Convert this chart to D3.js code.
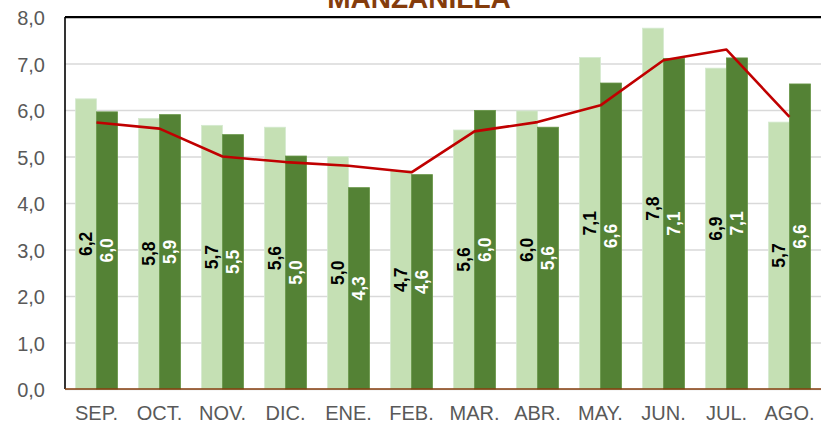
<!DOCTYPE html>
<html>
<head>
<meta charset="utf-8">
<script src="https://cdn.jsdelivr.net/npm/d3@7"></script>
<style>
  body { margin: 0; background: #fff; }
  text { font-family: "Liberation Sans", Arial, sans-serif; }
</style>
</head>
<body>
<div id="chart"></div>
<script>
// data
const months = ["SEP.", "OCT.", "NOV.", "DIC.", "ENE.", "FEB.", "MAR.", "ABR.", "MAY.", "JUN.", "JUL.", "AGO."];
const serieA = [6.24, 5.82, 5.67, 5.63, 5.0, 4.7, 5.57, 5.98, 7.13, 7.76, 6.9, 5.74];
const serieB = [5.96, 5.9, 5.47, 5.01, 4.33, 4.61, 5.99, 5.63, 6.58, 7.11, 7.12, 6.56];
const promedio = [5.73, 5.6, 5.0, 4.88, 4.8, 4.66, 5.54, 5.74, 6.1, 7.07, 7.3, 5.85];
const yTicks = [0, 1, 2, 3, 4, 5, 6, 7, 8];

const W = 821, H = 423;
const margin = {top: 17, right: 0, bottom: 34, left: 65};
const width = W - margin.left - margin.right,
      height = H - margin.top - margin.bottom;

const svg = d3.select("#chart").append("svg")
    .attr("width", W)
    .attr("height", H);

const g = svg.append("g")
    .attr("transform", `translate(${margin.left},${margin.top})`);

const fmt = v => d3.format(".1f")(v).replace(".", ",");

// scales
const x = d3.scaleBand().domain(months).range([0, width]).padding(0);
const y = d3.scaleLinear().domain([0, 8]).range([height, 0]);
const barW = x.bandwidth() / 3;

// grid
g.append("g")
  .call(d3.axisLeft(y).tickValues(yTicks).tickSize(-width).tickFormat(""))
  .call(a => a.select(".domain").remove())
  .selectAll("line").attr("stroke", "#d9d9d9").attr("stroke-width", 1.3);

// y tick labels
g.append("g")
  .call(d3.axisLeft(y).tickValues(yTicks).tickSize(0).tickPadding(20).tickFormat(fmt))
  .call(a => a.select(".domain").remove())
  .selectAll("text")
    .attr("fill", "#595959")
    .attr("dy", "0.38em")
    .style("font-size", "20px");

// bars
const bars = [
  {vals: serieA, fill: "#c5e0b4", stroke: "#d5ead0", off: -barW, lab: "#000"},
  {vals: serieB, fill: "#548235", stroke: "#669545", off: 0, lab: "#fff"}
];
bars.forEach(s => {
  g.append("g").selectAll("rect")
    .data(s.vals)
    .join("rect")
      .attr("x", (d, i) => x(months[i]) + x.bandwidth() / 2 + s.off)
      .attr("y", d => y(d))
      .attr("width", barW)
      .attr("height", d => y(0) - y(d))
      .attr("fill", s.fill)
      .attr("stroke", s.stroke)
      .attr("stroke-width", 0.8);
});

// line
const line = d3.line()
  .x((d, i) => x(months[i]) + x.bandwidth() / 2)
  .y(d => y(d));
g.append("path")
  .datum(promedio)
  .attr("d", line)
  .attr("fill", "none")
  .attr("stroke", "#c00000")
  .attr("stroke-width", 2.6)
  .attr("stroke-linejoin", "round");

// labels inside the bars
bars.forEach(s => {
  g.append("g").selectAll("text")
    .data(s.vals)
    .join("text")
      .attr("transform", (d, i) => {
        const cx = x(months[i]) + x.bandwidth() / 2 + s.off + barW / 2;
        const cy = (y(d) + y(0)) / 2;
        return `translate(${cx},${cy}) rotate(-90)`;
      })
      .attr("text-anchor", "middle")
      .attr("dy", "0.36em")
      .attr("fill", s.lab)
      .style("font-size", "17.5px")
      .style("font-weight", "bold")
      .text(d => fmt(d));
});

// axes lines
g.append("line")
  .attr("x1", 0).attr("x2", width).attr("y1", 0).attr("y2", 0)
  .attr("stroke", "#000").attr("stroke-width", 2);
g.append("line")
  .attr("x1", 0).attr("x2", width).attr("y1", 1.5).attr("y2", 1.5)
  .attr("stroke", "#bfbfbf").attr("stroke-width", 1);
g.append("line")
  .attr("x1", 0).attr("x2", 0).attr("y1", 0).attr("y2", height)
  .attr("stroke", "#000").attr("stroke-width", 1.6);
g.append("line")
  .attr("x1", 0).attr("x2", width).attr("y1", height).attr("y2", height)
  .attr("stroke", "#843c0c").attr("stroke-width", 1.3);

// x labels
g.append("g")
  .attr("transform", `translate(0,${height})`)
  .call(d3.axisBottom(x).tickSize(0).tickPadding(17))
  .call(a => a.select(".domain").remove())
  .selectAll("text")
    .attr("fill", "#595959")
    .style("font-size", "20px");

// title (cut off at top, as in the source)
svg.append("text")
  .attr("x", 419)
  .attr("y", 8)
  .attr("text-anchor", "middle")
  .attr("fill", "#843c0c")
  .style("font-size", "28px")
  .style("font-weight", "bold")
  .text("MANZANILLA");
</script>
</body>
</html>
